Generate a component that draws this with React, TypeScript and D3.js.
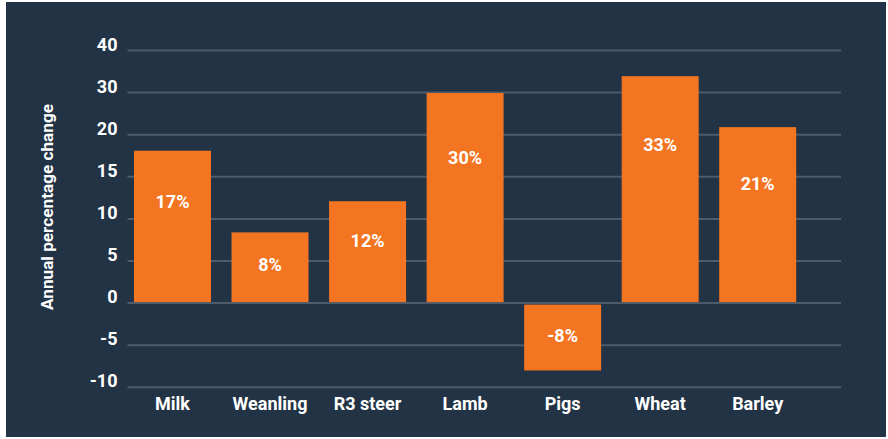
import React from "react";
import * as d3 from "d3";

const categories = ["Milk", "Weanling", "R3 steer", "Lamb", "Pigs", "Wheat", "Barley"];
// bar heights (axis units)
const values = [18.1, 8.4, 12.1, 29.9, -8.0, 33.9, 21.8];
// printed labels
const valueLabels = ["17%", "8%", "12%", "30%", "-8%", "33%", "21%"];
const yTicks = [-10, -5, 0, 5, 10, 15, 20, 30, 40];
const yTitle = "Annual percentage change";

const W = 888;
const H = 439;
const FONT = "Roboto, 'Noto Sans', sans-serif";

export default function App() {
  const gridTop = 50.5;
  const gridStep = 42.1;
  const n = yTicks.length;
  const yRange = yTicks.map((_, i) => gridTop + (n - 1 - i) * gridStep);
  const y = d3.scaleLinear().domain(yTicks).range(yRange);

  const x = d3
    .scaleBand<string>()
    .domain(categories)
    .range([134, 796.2])
    .paddingInner(0.2106)
    .paddingOuter(0);

  const gridX0 = 127.5;
  const gridX1 = 841;
  const zeroY = y(0);

  return (
    <svg
      width={W}
      height={H}
      style={{ position: "absolute", left: 0, top: 0, display: "block" }}
      fontFamily={FONT}
    >
      <rect x={0} y={0} width={W} height={H} fill="#ffffff" />
      <rect x={6} y={2} width={880} height={435} fill="#223345" />

      {yTicks.map((t) => (
        <g key={t}>
          <line
            x1={gridX0}
            x2={gridX1}
            y1={y(t)}
            y2={y(t)}
            stroke="#4d5b6b"
            strokeWidth={2}
          />
          <text
            x={117.5}
            y={y(t)}
            textAnchor="end"
            fill="#ffffff"
            fontSize={18}
            fontWeight={700}
          >
            {t}
          </text>
        </g>
      ))}

      {categories.map((c, i) => {
        const v = values[i];
        const bx = x(c) as number;
        const bw = x.bandwidth();
        const top = v >= 0 ? y(v) : zeroY + 1.5;
        const bottom = v >= 0 ? zeroY - 1 : y(v);
        const h = bottom - top;
        const labelCenter = top + 16 + 0.23 * h;
        return (
          <g key={c}>
            <rect x={bx} y={top} width={bw} height={h} fill="#f37521" />
            <text
              x={bx + bw / 2}
              y={labelCenter}
              dy="0.36em"
              textAnchor="middle"
              fill="#ffffff"
              fontSize={18}
              fontWeight={700}
            >
              {valueLabels[i]}
            </text>
            <text
              x={bx + bw / 2}
              y={409.5}
              textAnchor="middle"
              fill="#ffffff"
              fontSize={18}
              fontWeight={700}
            >
              {c}
            </text>
          </g>
        );
      })}

      <text
        transform={`translate(53,207) rotate(-90)`}
        textAnchor="middle"
        fill="#ffffff"
        fontSize={17.2}
        fontWeight={700}
      >
        {yTitle}
      </text>
    </svg>
  );
}
